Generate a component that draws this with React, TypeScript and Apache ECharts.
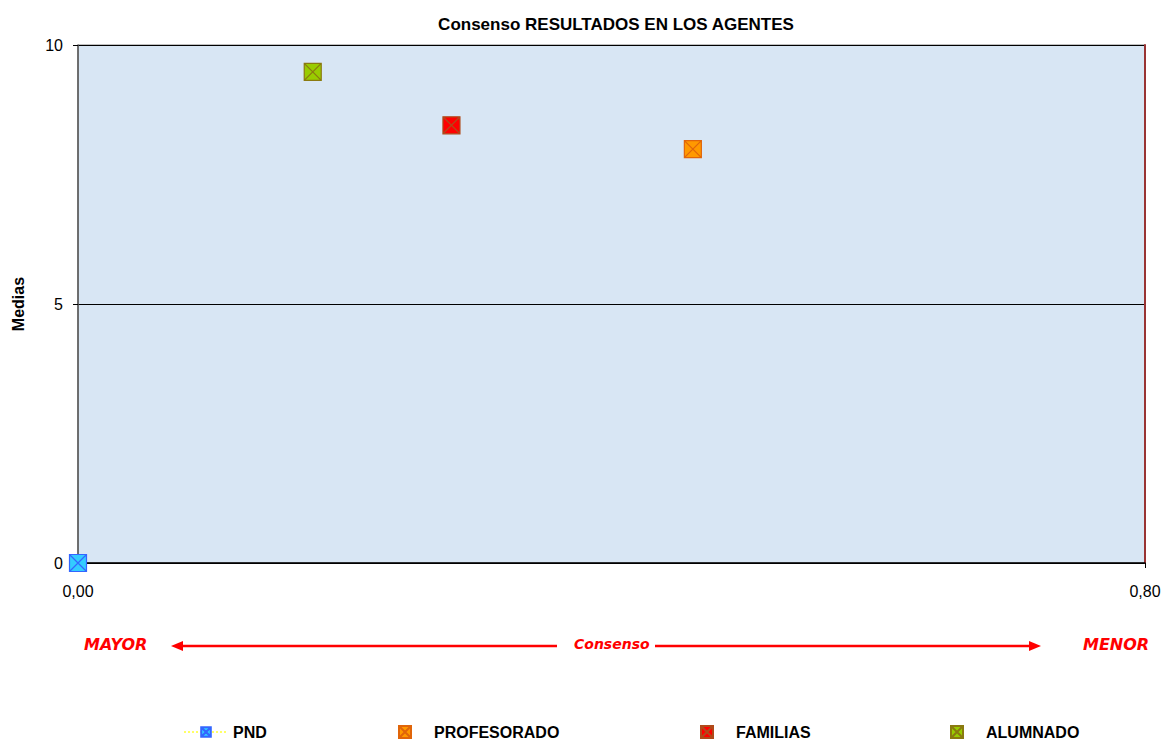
import React, { useEffect, useRef } from "react";
import * as echarts from "echarts";

const seriesNames = ["PND", "PROFESORADO", "FAMILIAS", "ALUMNADO"];
const consensoValues = [0.0, 0.461, 0.28, 0.176];
const mediaValues = [0.0, 7.99, 8.45, 9.48];
const fillColors = ["#33CCFF", "#FF9900", "#FF0000", "#99CC00"];
const crossColors = ["#3366FF", "#E0650A", "#B04A1A", "#8A7A10"];
const xTicks = [0, 0.8];
const yTicks = [0, 5, 10];

const SQX = "path://M0,0L10,0L10,10L0,10Z M0,0L10,10 M10,0L0,10";
const FONT = "'Liberation Sans', Arial, sans-serif";
const HAND = "'DejaVu Sans', sans-serif";

export default function App() {
  const ref = useRef<HTMLDivElement>(null);
  useEffect(() => {
    if (!ref.current) return;
    const chart = echarts.init(ref.current, null, { renderer: "svg" });
    const series: any[] = seriesNames.map((name, i) => ({
      name,
      type: i === 0 ? "line" : "scatter",
      data: [[consensoValues[i], mediaValues[i]]],
      symbol: SQX,
      symbolSize: 17,
      showSymbol: true,
      lineStyle: i === 0 ? { color: "#FFFF66", type: "dotted", width: 1 } : undefined,
      itemStyle: { color: fillColors[i], borderColor: crossColors[i], borderWidth: 1.2, opacity: 1 },
      z: 5,
    }));
    const legendLefts = [178, 393, 695, 945];
    const legends = seriesNames.map((name, i) => ({
      data: [{ name, icon: i === 0 ? undefined : SQX }],
      left: legendLefts[i],
      top: 719,
      itemWidth: i === 0 ? 44 : 12,
      itemHeight: 12,
      itemGap: 0,
      textStyle: { fontFamily: FONT, fontWeight: "bold", fontSize: 16, color: "#000", padding: [0, 0, 0, i === 0 ? 0 : 18] },
      selectedMode: false,
    }));
    const arrowY = 646;
    chart.setOption({
      animation: false,
      backgroundColor: "#fff",
      title: {
        text: "Consenso RESULTADOS EN LOS AGENTES",
        left: 611,
        textAlign: "center",
        top: 11,
        textStyle: { fontFamily: FONT, fontWeight: "bold", fontSize: 17, color: "#000" },
      },
      legend: legends,
      grid: {
        left: 78,
        right: 21,
        top: 45,
        bottom: 177,
        show: true,
        backgroundColor: "#D8E6F4",
        borderColor: "#808080",
        borderWidth: 1,
      },
      xAxis: [
        {
          type: "value",
          min: xTicks[0],
          max: xTicks[1],
          interval: 0.8,
          axisLine: { show: true, onZero: false, lineStyle: { color: "#000", width: 1.5 } },
          axisTick: { show: true, inside: false, length: 5, lineStyle: { color: "#000" } },
          splitLine: { show: false },
          axisLabel: {
            formatter: (v: number) => v.toFixed(2).replace(".", ","),
            fontFamily: FONT,
            fontSize: 16,
            color: "#000",
            margin: 20,
          },
        },
      ],
      yAxis: [
        {
          type: "value",
          name: "Medias",
          nameLocation: "middle",
          nameGap: 52,
          nameTextStyle: { fontFamily: FONT, fontWeight: "bold", fontSize: 16, color: "#000" },
          min: yTicks[0],
          max: yTicks[2],
          interval: 5,
          axisLine: { show: true, lineStyle: { color: "#555", width: 1.5 } },
          axisTick: { show: true, length: 5, lineStyle: { color: "#000" } },
          splitLine: { show: true, lineStyle: { color: "#000", width: 1 } },
          axisLabel: { fontFamily: FONT, fontSize: 16, color: "#000", margin: 15 },
        },
        {
          type: "value",
          position: "right",
          min: yTicks[0],
          max: yTicks[2],
          interval: 5,
          axisLine: { show: true, lineStyle: { color: "#993333", width: 2 } },
          axisTick: { show: false },
          axisLabel: { show: false },
          splitLine: { show: false },
        },
      ],
      graphic: [
        { type: "text", left: 84, top: arrowY - 10, style: { text: "MAYOR", fill: "#FF0000", font: `italic bold 16px ${HAND}` } },
        { type: "line", shape: { x1: 180, y1: arrowY, x2: 557, y2: arrowY }, style: { stroke: "#FF0000", lineWidth: 2.5 } },
        { type: "polygon", shape: { points: [[171, arrowY], [183, arrowY - 5], [183, arrowY + 5]] }, style: { fill: "#FF0000" } },
        { type: "text", left: 574, top: arrowY - 9, style: { text: "Consenso", fill: "#FF0000", font: `italic bold 14px ${HAND}` } },
        { type: "line", shape: { x1: 655, y1: arrowY, x2: 1032, y2: arrowY }, style: { stroke: "#FF0000", lineWidth: 2.5 } },
        { type: "polygon", shape: { points: [[1041, arrowY], [1029, arrowY - 5], [1029, arrowY + 5]] }, style: { fill: "#FF0000" } },
        { type: "text", left: 1083, top: arrowY - 10, style: { text: "MENOR", fill: "#FF0000", font: `italic bold 16px ${HAND}` } },
      ],
      series,
    });
    return () => chart.dispose();
  }, []);
  return <div ref={ref} style={{ width: 1166, height: 740, position: "absolute", left: 0, top: 0 }} />;
}
